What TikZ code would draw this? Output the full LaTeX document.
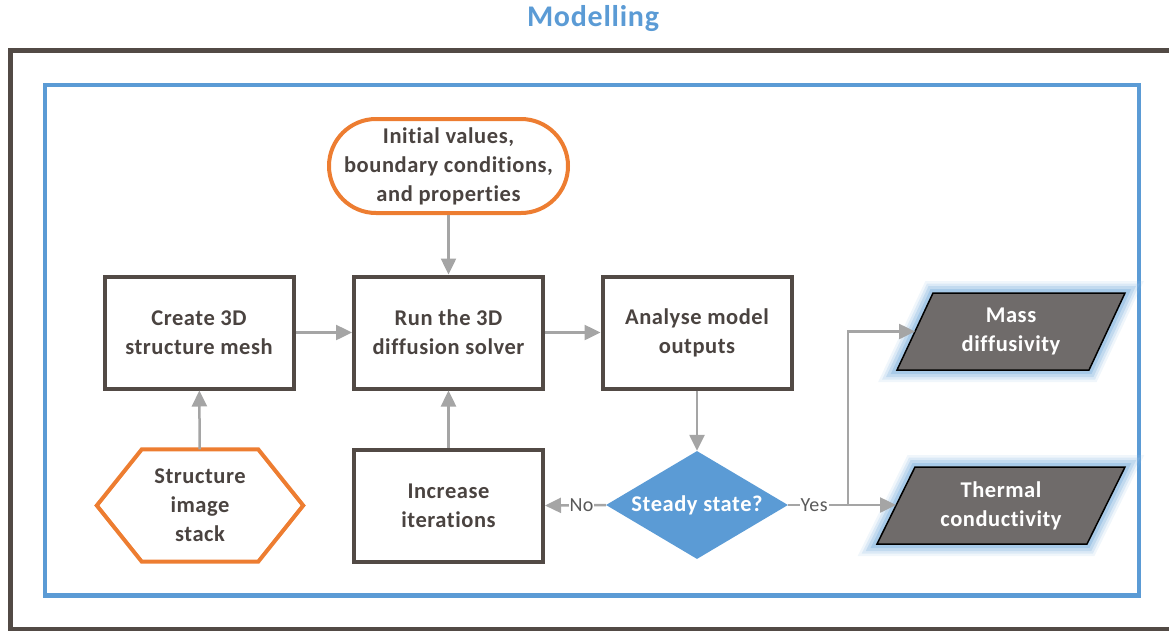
\documentclass[tikz,border=0pt]{standalone}
\usepackage{fontspec}
\setmainfont{Carlito}[Ligatures={NoCommon,NoRequired,NoContextual},LetterSpace=2.5]
\usetikzlibrary{arrows.meta,shapes.geometric}
\definecolor{dk}{HTML}{524A45}
\definecolor{bl}{HTML}{5B9BD5}
\definecolor{org}{HTML}{ED7D31}
\definecolor{gr}{HTML}{A5A5A5}
\definecolor{txt}{HTML}{4A4340}
\definecolor{pg}{HTML}{6F6B6A}
\definecolor{glow}{HTML}{9CC3E5}
\definecolor{lbl}{HTML}{595959}
\begin{document}
\begin{tikzpicture}[x=1pt,y=-1pt,
  txtfont/.style={font=\fontsize{22.5}{29}\selectfont\bfseries},
  box/.style={draw=dk,line width=4pt,minimum width=189pt,minimum height=112pt,align=center,txtfont,text=txt,inner sep=0pt},
  startbox/.style={draw=org,line width=4pt,minimum width=239pt,minimum height=94pt,rounded corners=47pt,align=center,txtfont,text=txt,inner sep=0pt},
  hexbox/.style={minimum width=206pt,minimum height=112pt,align=center,txtfont,text=txt,inner sep=0pt},
  hexline/.style={draw=org,line width=4pt,line join=miter},
  decide/.style={diamond,fill=bl,minimum width=182pt,minimum height=108pt,aspect=1.69,inner sep=0pt,align=center,txtfont,text=white},
  outbox/.style={minimum width=210pt,minimum height=77pt,align=center,txtfont,text=white,inner sep=0pt},
  outline/.style={fill=pg,draw=black,line width=1.5pt,line join=miter,
     preaction={draw=glow,line width=24pt,opacity=0.15},
     preaction={draw=glow,line width=19pt,opacity=0.25},
     preaction={draw=glow,line width=14pt,opacity=0.4},
     preaction={draw=glow,line width=8pt,opacity=0.7}},
  conn/.style={draw=gr,line width=2.5pt,-{Triangle[length=16pt,width=15pt]}},
  lab/.style={fill=white,text=lbl,font=\fontsize{20}{22}\selectfont,inner sep=1pt}
]
\useasboundingbox (0,0) rectangle (1169,632);
% title and frames
\node[text=bl,font=\fontsize{30}{34}\selectfont\bfseries] (title) at (593,19) {Modelling};
\draw[dk,line width=4.5pt] (10.5,50.5) rectangle (1185,629);
\draw[bl,line width=4.5pt] (45,85) rectangle (1139,595.5);

% nodes
\node[startbox] (init) at (448.5,166) {Initial values,\\boundary conditions,\\and properties};
\node[box] (create) at (199,332.5) {Create 3D\\structure mesh};
\node[box] (run) at (448.5,332.5) {Run the 3D\\diffusion solver};
\node[box] (analyse) at (697,332.5) {Analyse model\\outputs};
\node[box] (incr) at (448.5,505.5) {Increase\\iterations};
\node[hexbox] (hex) at (200,505.5) {Structure\\image\\stack};
\draw[hexline] (hex.west) -- ([xshift=45pt]hex.north west) -- ([xshift=-45pt]hex.north east)
   -- (hex.east) -- ([xshift=-45pt]hex.south east) -- ([xshift=45pt]hex.south west) -- cycle;
\node[decide] (steady) at (697,505) {Steady state?};

% outputs
\draw[outline] (933,293) -- (1125,293) -- (1089,370) -- (897,370) -- cycle;
\node[outbox] (mass) at (1011,331.5) {Mass\\diffusivity};
\draw[outline] (915,467) -- (1125,467) -- (1087,544) -- (877,544) -- cycle;
\node[outbox] (thermal) at (1001,505.5) {Thermal\\conductivity};
\coordinate (massin) at (915,331.5);
\coordinate (thermin) at (896,505);
\coordinate (split) at (848,505);

% connectors
\draw[conn] (init) -- (run);
\draw[conn] (create) -- (run);
\draw[conn] (run) -- (analyse);
\draw[conn] (hex) -- (create);
\draw[conn] (incr) -- (run);
\draw[conn] (analyse) -- (steady);
\draw[conn] (steady.west) -- node[lab,pos=0.4] (no) {No} (incr.east);
\draw[conn] (steady.east) -- node[lab,pos=0.24] (yes) {Yes} (thermin);
\draw[conn] (split) |- (massin);
\end{tikzpicture}
\end{document}
